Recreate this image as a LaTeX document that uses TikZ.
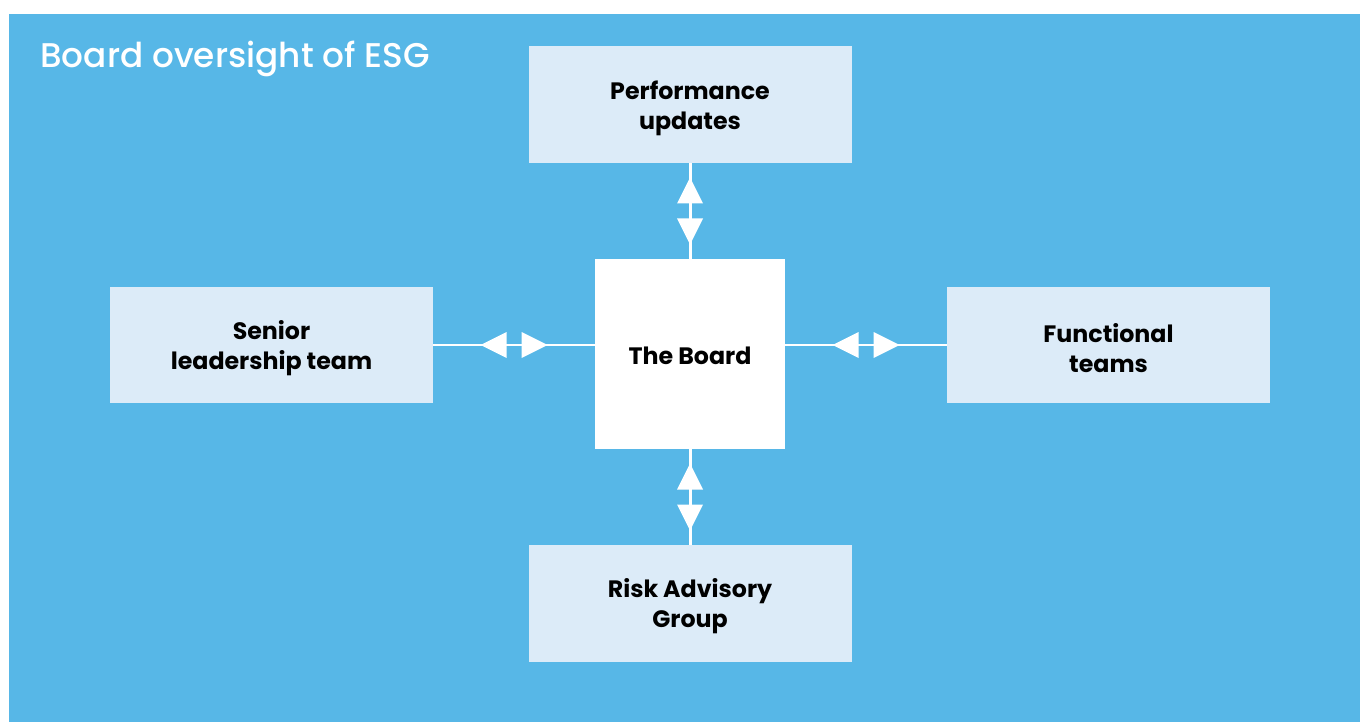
\documentclass[tikz,border=0pt]{standalone}
\usepackage{fontspec}
\setmainfont{Poppins}
\newfontfamily\titlefont{Poppins Medium}
\usepackage{tikz}
\usetikzlibrary{positioning,decorations.markings}
\definecolor{esgblue}{RGB}{87,183,231}
\definecolor{palebox}{RGB}{220,235,248}
\tikzset{
  plainbox/.style={
    align=center,inner sep=0pt,outer sep=0pt,
    font=\fontsize{13.5}{17}\selectfont\bfseries
  },
  unitbox/.style={plainbox,fill=palebox,minimum width=6.46cm,minimum height=2.33cm,
    execute at begin node={\rule{0pt}{\dimexpr17pt+0.75em+0.15cm\relax}}},
  boardbox/.style={plainbox,fill=white,minimum width=3.8cm,minimum height=3.8cm,
    execute at begin node={\rule{0pt}{\dimexpr0.75em+0.07cm\relax}}},
  twoway/.style={draw=white,line width=1.7pt,postaction={decorate},
    decoration={markings,mark=at position 0.5 with {
      \fill[white] (-0.15,0) -- ++(0,0.26) -- ++(-0.52,-0.26) -- ++(0.52,-0.26) -- cycle;
      \fill[white] (0.15,0) -- ++(0,0.26) -- ++(0.52,-0.26) -- ++(-0.52,-0.26) -- cycle;
    }}}
}
\begin{document}
\begin{tikzpicture}[node distance=1.92cm and 3.24cm]
  \useasboundingbox (0,0) rectangle (27.2,-14.44);
  \fill[esgblue] (0.18,-0.28) rectangle (27.2,-14.44);
  \node[anchor=base west,inner sep=0pt,text=white,font=\titlefont\fontsize{19.5}{24}\selectfont] (title)
    at (0.8,-1.36) {Board oversight of ESG};
  \node[boardbox] (tb) at (13.8,-7.08) {The Board};
  \node[unitbox,above=of tb] (pu) {Performance\\updates};
  \node[unitbox,below=of tb] (rag) {Risk Advisory\\Group};
  \node[unitbox,left=of tb,yshift=0.18cm] (slt) {Senior\\leadership team};
  \node[unitbox,right=of tb,yshift=0.18cm] (ft) {Functional\\teams};
  \draw[twoway] (pu) -- (tb);
  \draw[twoway] (tb) -- (rag);
  \draw[twoway] (slt) -- (slt -| tb.west);
  \draw[twoway] (ft -| tb.east) -- (ft);
\end{tikzpicture}
\end{document}
